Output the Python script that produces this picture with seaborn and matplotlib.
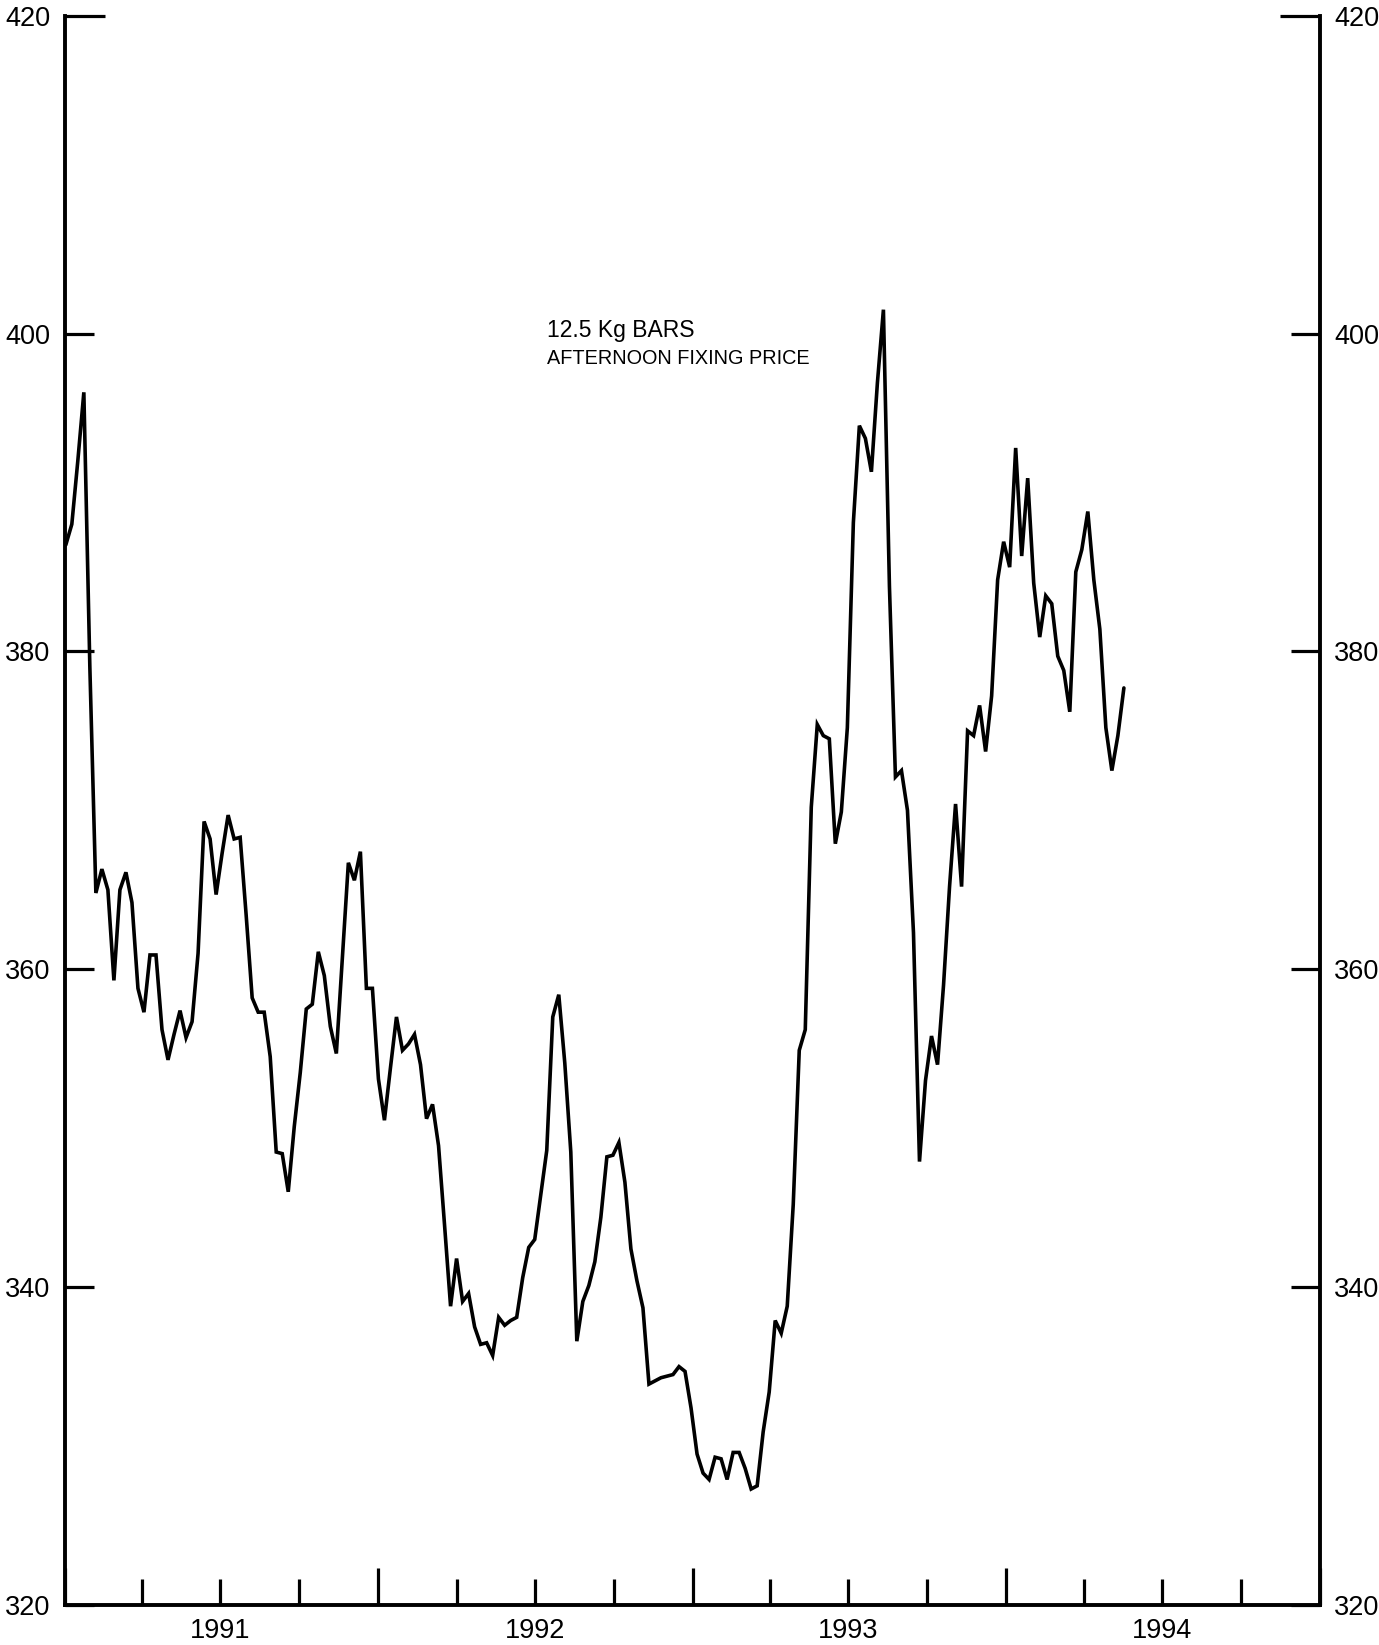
import numpy as np
import pandas as pd
import matplotlib
matplotlib.use("Agg")
import matplotlib.pyplot as plt
import matplotlib.dates as mdates
from matplotlib.ticker import FuncFormatter, NullFormatter
import seaborn as sns

# Weekly afternoon fixing price (12.5 kg bars)
prices_1991 = [386.7, 388.0, 392.0, 396.3, 379.0, 364.8, 366.3, 365.0, 359.3, 365.0,
               366.1, 364.2, 358.8, 357.3, 360.9, 360.9, 356.2, 354.3, 355.9, 357.4,
               355.7, 356.7, 361.0, 369.3, 368.2, 364.7, 367.3, 369.7, 368.2, 368.3,
               363.4, 358.2, 357.3, 357.3, 354.5, 348.5, 348.4, 346.0, 350.1, 353.5,
               357.5, 357.8, 361.1, 359.6, 356.4, 354.7, 360.7, 366.7, 365.6, 367.4,
               358.8, 358.8]
prices_1992 = [353.1, 350.5, 353.8, 357.0, 354.9, 355.3, 355.9, 354.0, 350.6, 351.5,
               348.9, 343.9, 338.8, 341.8, 339.1, 339.6, 337.5, 336.4, 336.5, 335.7,
               338.1, 337.6, 337.9, 338.1, 340.6, 342.5, 343.0, 345.8, 348.6, 357.0,
               358.4, 354.1, 348.5, 336.6, 339.1, 340.1, 341.6, 344.4, 348.2, 348.3,
               349.1, 346.6, 342.4, 340.4, 338.7, 333.9, 334.1, 334.3, 334.4, 334.5,
               335.0, 334.7, 332.4]
prices_1993 = [329.5, 328.3, 327.9, 329.3, 329.2, 327.9, 329.6, 329.6, 328.6, 327.3,
               327.5, 330.9, 333.4, 337.9, 337.1, 338.8, 345.2, 354.9, 356.2, 370.2,
               375.4, 374.7, 374.5, 367.9, 369.9, 375.2, 388.1, 394.2, 393.4, 391.3,
               396.9, 401.5, 384.1, 372.1, 372.5, 370.0, 362.3, 347.9, 353.0, 355.8,
               354.0, 359.0, 365.2, 370.4, 365.2, 375.0, 374.7, 376.6, 373.7, 377.2,
               384.5, 386.9]
prices_1994 = [385.3, 392.8, 386.0, 390.9, 384.3, 380.9, 383.5, 383.0, 379.7, 378.8,
               376.2, 385.0, 386.4, 388.8, 384.5, 381.4, 375.2, 372.5, 374.7, 377.7]

first_week = "1991-01-02"
y_ticks = [320, 340, 360, 380, 400, 420]
title_lines = ["12.5 Kg BARS", "AFTERNOON FIXING PRICE"]

prices = prices_1991 + prices_1992 + prices_1993 + prices_1994
weeks = pd.date_range(first_week, periods=len(prices), freq="7D")
df = pd.DataFrame({"week": weeks, "price": prices})

sns.set_theme(style="white")
plt.rcParams["font.family"] = ["Liberation Sans Narrow", "Liberation Sans", "DejaVu Sans"]

fig = plt.figure(figsize=(13.79, 16.45), dpi=100)
ax = fig.add_axes([0.0471, 0.0243, 0.9099, 0.9662])

sns.lineplot(data=df, x="week", y="price", ax=ax, color="black", linewidth=2.6)
for ln in ax.lines:
    ln.set_solid_joinstyle("miter")

ax.set_xlim(pd.Timestamp("1991-01-01"), pd.Timestamp("1995-01-01"))
ax.set_ylim(320, 420)
ax.set_yticks(y_ticks)
ax.set_xlabel("")
ax.set_ylabel("")

for side in ["left", "right", "bottom"]:
    ax.spines[side].set_visible(True)
    ax.spines[side].set_linewidth(2.8)
    ax.spines[side].set_color("black")
ax.spines["top"].set_visible(False)

ax.tick_params(axis="y", which="major", direction="in", length=21, width=2.3,
               left=True, right=True, labelleft=True, labelright=True,
               labelsize=19.5, pad=10.5, colors="black")
# top tick (420) is drawn longer in the original
top_tick = ax.yaxis.get_major_ticks()[-1]
top_tick.tick1line.set_markersize(28.5)
top_tick.tick2line.set_markersize(28.5)

ax.xaxis.set_major_locator(mdates.YearLocator())
ax.xaxis.set_minor_locator(mdates.MonthLocator(bymonth=[1, 4, 7, 10]))
ax.xaxis.set_major_formatter(NullFormatter())


def year_label(x, pos=None):
    d = mdates.num2date(x)
    return str(d.year) if d.month == 7 else ""


ax.xaxis.set_minor_formatter(FuncFormatter(year_label))
ax.tick_params(axis="x", which="major", direction="in", length=26.5, width=2.3,
               bottom=True, top=False, colors="black")
ax.tick_params(axis="x", which="minor", direction="in", length=18.5, width=2.3,
               bottom=True, top=False, labelsize=19.5, pad=9, colors="black")

ax.text(pd.Timestamp("1992-07-15"), 400.2, title_lines[0], fontsize=16.5,
        family=["Liberation Sans", "DejaVu Sans"], ha="left", va="center", color="black")
ax.text(pd.Timestamp("1992-07-15"), 398.4, title_lines[1], fontsize=14.3,
        family=["Liberation Sans", "DejaVu Sans"], ha="left", va="center", color="black")

ax.grid(False)
fig.savefig("out.png", dpi=100)
